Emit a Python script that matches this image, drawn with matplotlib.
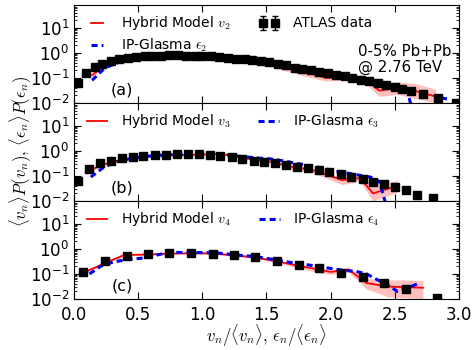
import matplotlib
matplotlib.use('Agg')
import matplotlib.pyplot as plt

plt.rcParams['mathtext.fontset'] = 'cm'
plt.rcParams['font.family'] = 'DejaVu Sans'

# ATLAS data, 0-5% Pb+Pb
atlas_x2 = [0.03, 0.09, 0.16, 0.22, 0.29, 0.35, 0.42, 0.48, 0.55, 0.61, 0.68, 0.74, 0.81, 0.87,
            0.94, 1.00, 1.07, 1.13, 1.20, 1.26, 1.33, 1.39, 1.46, 1.52, 1.59, 1.65, 1.72, 1.78,
            1.85, 1.91, 1.98, 2.04, 2.11, 2.17, 2.24, 2.30, 2.37, 2.43, 2.50, 2.56, 2.63, 2.72,
            2.84, 2.98]
atlas_y2 = [0.06, 0.16, 0.27, 0.37, 0.47, 0.56, 0.63, 0.69, 0.73, 0.76, 0.78, 0.79, 0.79, 0.78,
            0.77, 0.75, 0.72, 0.68, 0.63, 0.59, 0.55, 0.51, 0.47, 0.42, 0.36, 0.32, 0.26, 0.23,
            0.20, 0.17, 0.15, 0.135, 0.115, 0.10, 0.085, 0.075, 0.062, 0.052, 0.043, 0.035, 0.029,
            0.023, 0.015, 0.010]
atlas_x3 = [0.03, 0.12, 0.20, 0.29, 0.37, 0.46, 0.54, 0.63, 0.72, 0.80, 0.89, 0.97, 1.06, 1.14,
            1.23, 1.31, 1.40, 1.48, 1.57, 1.65, 1.74, 1.82, 1.91, 1.99, 2.08, 2.16, 2.25, 2.33,
            2.42, 2.50, 2.59, 2.67, 2.80]
atlas_y3 = [0.06, 0.19, 0.32, 0.41, 0.52, 0.59, 0.65, 0.68, 0.71, 0.72, 0.73, 0.72, 0.70, 0.64,
            0.55, 0.47, 0.41, 0.37, 0.32, 0.28, 0.23, 0.20, 0.17, 0.14, 0.12, 0.093, 0.073, 0.058,
            0.046, 0.035, 0.027, 0.018, 0.013]
atlas_x4 = [0.07, 0.24, 0.41, 0.58, 0.74, 0.91, 1.08, 1.25, 1.41, 1.58, 1.75, 1.91, 2.08, 2.25,
            2.42, 2.59, 2.83]
atlas_y4 = [0.12, 0.34, 0.52, 0.63, 0.71, 0.68, 0.64, 0.55, 0.46, 0.33, 0.23, 0.17, 0.11, 0.072,
            0.043, 0.024, 0.011]
atlas_rel_err = 0.06

# Hybrid model (line + band)
hyb_x2 = [0.14, 0.28, 0.42, 0.56, 0.70, 0.84, 0.98, 1.12, 1.26, 1.40, 1.54, 1.68, 1.82, 1.96,
          2.10, 2.24, 2.38, 2.52, 2.66, 2.82]
hyb_y2 = [0.13, 0.44, 0.50, 0.58, 0.65, 0.72, 0.78, 0.82, 0.62, 0.45, 0.32, 0.23, 0.16, 0.10,
          0.10, 0.11, 0.031, 0.040, 0.030, 0.018]
hyb_lo2 = [0.11, 0.40, 0.46, 0.54, 0.61, 0.68, 0.74, 0.77, 0.57, 0.41, 0.27, 0.17, 0.11, 0.075,
           0.08, 0.085, 0.018, 0.022, 0.015, 0.010]
hyb_hi2 = [0.15, 0.48, 0.55, 0.63, 0.70, 0.77, 0.83, 0.87, 0.67, 0.50, 0.36, 0.27, 0.19, 0.12,
           0.12, 0.13, 0.06, 0.07, 0.06, 0.035]

hyb_x3 = [0.09, 0.22, 0.35, 0.48, 0.61, 0.74, 0.87, 1.00, 1.13, 1.26, 1.39, 1.52, 1.72, 1.85,
          2.09, 2.23, 2.33, 2.52]
hyb_y3 = [0.14, 0.28, 0.42, 0.54, 0.62, 0.66, 0.68, 0.72, 0.76, 0.62, 0.45, 0.38, 0.22, 0.18,
          0.068, 0.082, 0.020, 0.040]
hyb_lo3 = [0.12, 0.25, 0.39, 0.50, 0.58, 0.62, 0.64, 0.68, 0.72, 0.58, 0.41, 0.34, 0.18, 0.14,
           0.045, 0.06, 0.010, 0.022]
hyb_hi3 = [0.16, 0.31, 0.45, 0.58, 0.66, 0.70, 0.72, 0.76, 0.80, 0.66, 0.49, 0.42, 0.25, 0.21,
           0.085, 0.10, 0.045, 0.065]

hyb_x4 = [0.07, 0.24, 0.39, 0.58, 0.75, 0.91, 1.07, 1.24, 1.41, 1.58, 1.75, 1.91, 2.00, 2.14,
          2.28, 2.45, 2.72]
hyb_y4 = [0.11, 0.27, 0.57, 0.60, 0.65, 0.67, 0.66, 0.56, 0.46, 0.32, 0.21, 0.15, 0.12, 0.15,
          0.043, 0.031, 0.028]
hyb_lo4 = [0.10, 0.24, 0.52, 0.55, 0.60, 0.62, 0.61, 0.51, 0.41, 0.28, 0.17, 0.11, 0.095, 0.12,
           0.025, 0.012, 0.010]
hyb_hi4 = [0.12, 0.30, 0.62, 0.65, 0.70, 0.72, 0.71, 0.61, 0.51, 0.36, 0.24, 0.17, 0.14, 0.18,
           0.065, 0.058, 0.055]

# IP-Glasma eccentricity distributions (nan = gap in the curve)
ipg_x2 = [0.14, 0.24, 0.34, 0.44, 0.54, 0.64, 0.74, 0.84, 0.94, 1.04, 1.14, 1.24, 1.34, 1.44,
          1.54, 1.64, 1.74, 1.84, 1.94, 2.04, 2.14, 2.24, 2.34, 2.44, 2.54, 2.60, 2.64, 2.75,
          2.86, 2.92]
ipg_y2 = [0.08, 0.25, 0.40, 0.52, 0.62, 0.70, 0.76, 0.79, 0.80, 0.78, 0.72, 0.64, 0.56, 0.47,
          0.38, 0.31, 0.25, 0.19, 0.15, 0.12, 0.095, 0.08, 0.065, 0.052, 0.040, 0.030, 0.004,
          float('nan'), 0.016, 0.014]
ipg_x3 = [0.13, 0.23, 0.33, 0.43, 0.53, 0.63, 0.73, 0.83, 0.93, 1.03, 1.13, 1.23, 1.33, 1.43,
          1.53, 1.63, 1.73, 1.83, 1.93, 2.03, 2.13, 2.23, 2.31, 2.38, 2.44]
ipg_y3 = [0.09, 0.22, 0.36, 0.48, 0.58, 0.65, 0.70, 0.73, 0.74, 0.74, 0.72, 0.66, 0.58, 0.52,
          0.48, 0.40, 0.32, 0.26, 0.21, 0.16, 0.13, 0.105, 0.09, 0.06, 0.005]
ipg_x4 = [0.12, 0.22, 0.31, 0.42, 0.52, 0.60, 0.70, 0.80, 0.90, 1.00, 1.10, 1.20, 1.30, 1.40,
          1.50, 1.60, 1.70, 1.80, 1.90, 2.00, 2.10, 2.20, 2.28, 2.36, 2.44, 2.52, 2.60, 2.68]
ipg_y4 = [0.10, 0.22, 0.30, 0.38, 0.42, 0.50, 0.66, 0.72, 0.72, 0.71, 0.70, 0.62, 0.55, 0.50,
          0.42, 0.34, 0.28, 0.24, 0.20, 0.165, 0.14, 0.125, 0.10, 0.06, 0.038, 0.020, 0.028, 0.040]

panels = [
    (atlas_x2, atlas_y2, hyb_x2, hyb_y2, hyb_lo2, hyb_hi2, ipg_x2, ipg_y2, '2', '(a)'),
    (atlas_x3, atlas_y3, hyb_x3, hyb_y3, hyb_lo3, hyb_hi3, ipg_x3, ipg_y3, '3', '(b)'),
    (atlas_x4, atlas_y4, hyb_x4, hyb_y4, hyb_lo4, hyb_hi4, ipg_x4, ipg_y4, '4', '(c)'),
]

fig = plt.figure(figsize=(4.75, 3.5), dpi=100)
left, right, top, bottom = 0.156, 0.966, 0.986, 0.146
h = (top - bottom) / 3

for i, (ax_, ay, hx, hy, hlo, hhi, ex, ey, n, tag) in enumerate(panels):
    ax = fig.add_axes([left, top - (i + 1) * h, right - left, h])
    ax.fill_between(hx, hlo, hhi, color='#ff0000', alpha=0.25, lw=0)
    ax.plot(hx, hy, color='#ff0000', lw=1.3, label='Hybrid Model $v_%s$' % n)
    ax.plot(ex, ey, color='#0000ff', lw=2.2, ls=(0, (2, 1.3)),
            label=r'IP-Glasma $\epsilon_%s$' % n)
    yerr = [v * atlas_rel_err for v in ay]
    ax.errorbar(ax_, ay, yerr=yerr, fmt='s', color='black', ms=6, capsize=2, elinewidth=1,
                label='ATLAS data' if i == 0 else None, zorder=3)

    ax.set_yscale('log')
    ax.set_ylim(1e-2, 83)
    ax.set_xlim(0, 3.0)
    ax.set_yticks([1e-2, 1e-1, 1e0, 1e1])
    ax.set_xticks([0, 0.5, 1.0, 1.5, 2.0, 2.5, 3.0])
    ax.tick_params(which='both', direction='in', top=True, right=True, labelsize=12)
    ax.tick_params(which='major', length=5)
    ax.tick_params(which='minor', length=2.5)
    ax.tick_params(axis='x', pad=5)
    if i < 2:
        ax.tick_params(labelbottom=False)

    ax.text(0.125, 0.13, tag, transform=ax.transAxes, ha='center', va='center', fontsize=11.5)

    leg_kw = dict(loc='upper left', bbox_to_anchor=(0.0, 1.03), ncol=2, frameon=False,
                  fontsize=10, handlelength=1.5, handletextpad=1.0, columnspacing=2.0,
                  labelspacing=0.3, borderaxespad=0.5)
    if i == 0:
        ax.legend(numpoints=2, **leg_kw)
        ax.text(0.738, 0.44, '0-5% Pb+Pb\n@ 2.76 TeV', transform=ax.transAxes,
                ha='left', va='center', fontsize=10.8, linespacing=1.05)
    else:
        ax.legend(**leg_kw)
    if i == 2:
        ax.set_xlabel(r'$v_n/\langle v_n\rangle,\, \epsilon_n/\langle\epsilon_n\rangle$',
                      fontsize=12, labelpad=-1)

fig.text(0.042, (top + bottom) / 2,
         r'$\langle v_n\rangle P(v_n),\, \langle\epsilon_n\rangle P(\epsilon_n)$',
         rotation=90, ha='center', va='center', fontsize=12)

fig.savefig('out.png', dpi=100)
